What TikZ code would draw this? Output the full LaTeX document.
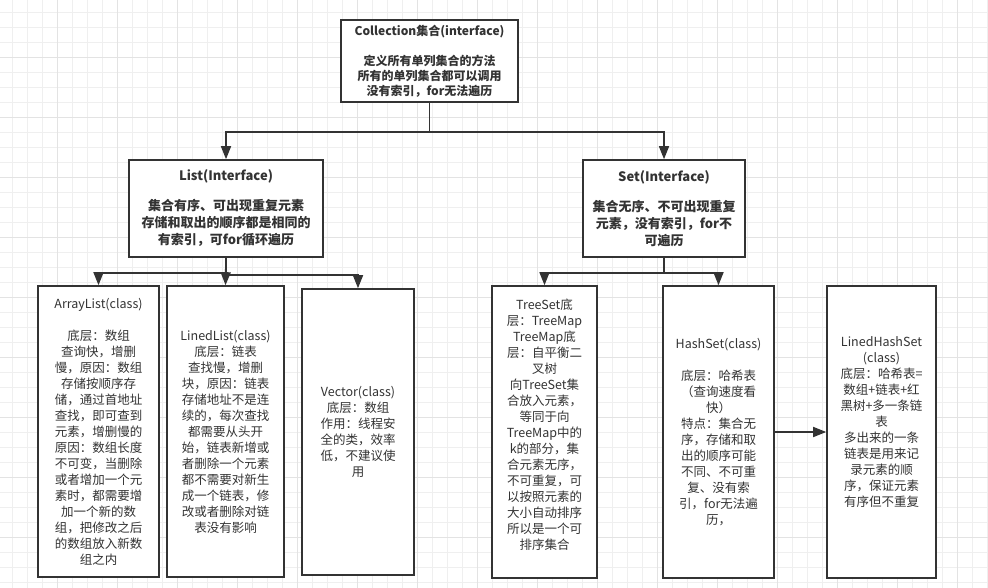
\documentclass[tikz,border=0pt]{standalone}
\usepackage{fontspec}
\newfontfamily\cjk{Noto Sans CJK SC}
\usetikzlibrary{arrows.meta}
\definecolor{ink}{HTML}{333333}
\definecolor{gridminor}{HTML}{EFEFEF}
\definecolor{gridmajor}{HTML}{E3E3E3}
\begin{document}
\begin{tikzpicture}[x=1pt,y=-1pt,
  box/.style={draw=ink, line width=1.6pt, fill=white, align=center, text=ink, inner sep=0pt,
              font=\cjk\fontsize{12.5}{16}\selectfont},
  collbox/.style={box, font=\cjk\bfseries\fontsize{12}{15}\selectfont},
  topbox/.style={box, font=\cjk\bfseries\fontsize{13}{17}\selectfont},
  conn/.style={draw=ink, line width=1.6pt, -{Triangle[width=10pt,length=13pt]}},
  gminor/.style={draw=gridminor, line width=0.8pt},
  gmajor/.style={draw=gridmajor, line width=0.8pt}]
\useasboundingbox (0,0) rectangle (988,588);
\fill[white] (0,0) rectangle (988,588);
% grid
\foreach \i in {0,...,65} {
  \pgfmathsetmacro{\gx}{12.5+15*\i}
  \draw[gminor] (\gx,0) -- (\gx,588);
}
\foreach \i in {0,...,39} {
  \pgfmathsetmacro{\gy}{12.5+15*\i}
  \draw[gminor] (0,\gy) -- (988,\gy);
}
\foreach \i in {0,...,16} {
  \pgfmathsetmacro{\gx}{-2.5+60*\i}
  \draw[gmajor] (\gx,0) -- (\gx,588);
}
\foreach \i in {0,...,10} {
  \pgfmathsetmacro{\gy}{-2.5+60*\i}
  \draw[gmajor] (0,\gy) -- (988,\gy);
}

% boxes
\node[collbox, minimum width=177pt, minimum height=82pt] (coll) at (429.5,61)
  {Collection集合(interface)\\[15pt]定义所有单列集合的方法\\所有的单列集合都可以调用\\没有索引，for无法遍历};
\node[topbox, minimum width=194pt, minimum height=97pt] (list) at (226,208.5)
  {List(Interface)\\[13pt]集合有序、可出现重复元素\\存储和取出的顺序都是相同的\\有索引，可for循环遍历};
\node[topbox, minimum width=162pt, minimum height=97pt] (set) at (664,208.5)
  {Set(Interface)\\[13pt]集合无序、不可出现重复\\元素，没有索引，for不\\可遍历};

\node[box, minimum width=121pt, minimum height=291pt] (al) at (98.5,431.5)
  {ArrayList(class)\\[16pt]底层：数组\\查询快，增删\\慢，原因：数组\\存储按顺序存\\储，通过首地址\\查找，即可查到\\元素，增删慢的\\原因：数组长度\\不可变，当删除\\或者增加一个元\\素时，都需要增\\加一个新的数\\组，把修改之后\\的数组放入新数\\组之内};
\node[box, minimum width=117pt, minimum height=291pt] (ll) at (225.5,431.5)
  {LinedList(class)\\底层：链表\\查找慢，增删\\块，原因：链表\\存储地址不是连\\续的，每次查找\\都需要从头开\\始，链表新增或\\者删除一个元素\\都不需要对新生\\成一个链表，修\\改或者删除对链\\表没有影响};
\node[box, minimum width=112pt, minimum height=286pt] (vec) at (358,432)
  {Vector(class)\\底层：数组\\作用：线程安\\全的类，效率\\低，不建议使\\用};
\node[box, minimum width=105pt, minimum height=292pt] (ts) at (544.5,432)
  {TreeSet底\\层：TreeMap\\TreeMap底\\层：自平衡二\\叉树\\向TreeSet集\\合放入元素，\\等同于向\\TreeMap中的\\k的部分，集\\合元素无序，\\不可重复，可\\以按照元素的\\大小自动排序\\所以是一个可\\排序集合\\\mbox{}};
\node[box, minimum width=111pt, minimum height=292pt] (hs) at (718.5,432)
  {HashSet(class)\\[16pt]底层：哈希表\\（查询速度看\\快）\\特点：集合无\\序，存储和取\\出的顺序可能\\不同、不可重\\复、没有索\\引，for无法遍\\历，};
\node[box, minimum width=109pt, minimum height=292pt] (lhs) at (881.5,432)
  {LinedHashSet\\(class)\\底层：哈希表=\\数组+链表+红\\黑树+多一条链\\表\\多出来的一条\\链表是用来记\\录元素的顺\\序，保证元素\\有序但不重复\\[4pt]\mbox{}};

% connectors
\draw[conn] (coll.south) -- ++(0,29) -| (list.north);
\draw[conn] (coll.south) -- ++(0,29) -| (set.north);
\draw[conn] (list.south) -- ++(0,15) -| (al.north);
\draw[conn] (list.south) -- (ll.north);
\draw[conn] (list.south) -- ++(0,17) -| (vec.north);
\draw[conn] (set.south) -- ++(0,15) -| (ts.north);
\draw[conn] (set.south) -- ++(0,15) -| (hs.north);
\draw[conn] (hs.east) -- (lhs.west);
\end{tikzpicture}
\end{document}
